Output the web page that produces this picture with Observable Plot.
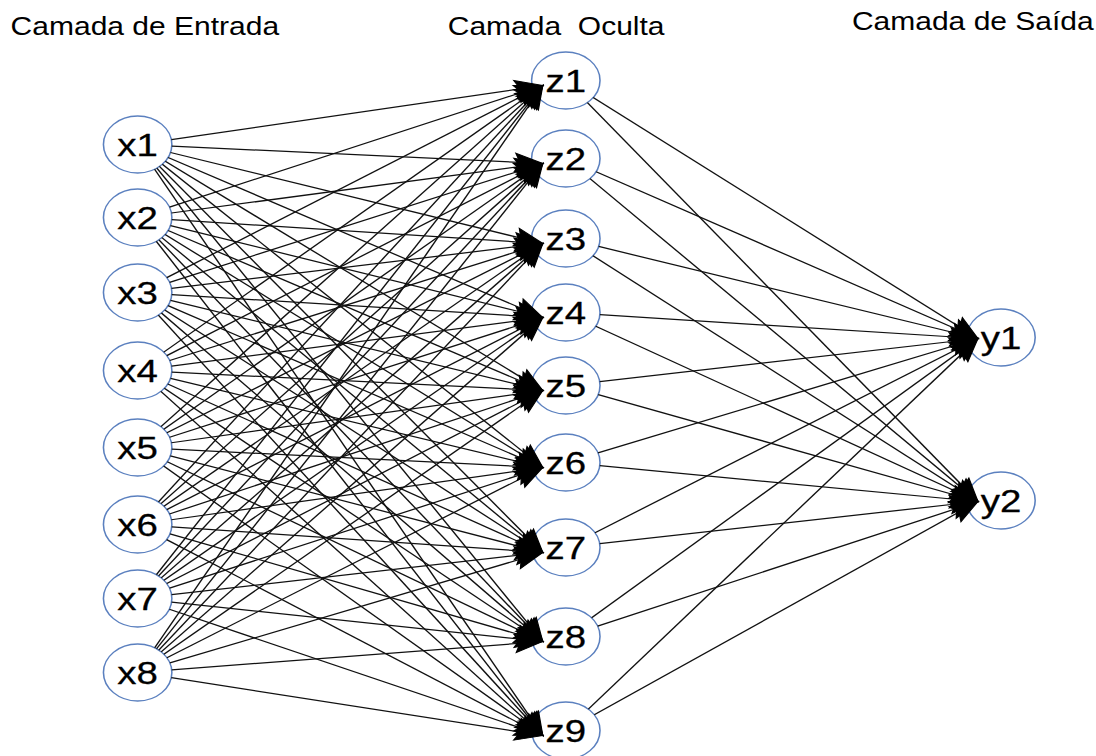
<!DOCTYPE html>
<html>
<head>
<meta charset="utf-8">
<script src="https://cdn.jsdelivr.net/npm/d3@7"></script>
<script src="https://cdn.jsdelivr.net/npm/@observablehq/plot@0.6"></script>
<style>
  html, body { margin: 0; padding: 0; background: #fff; }
  #chart svg text { white-space: pre; }
</style>
</head>
<body>
<div id="chart"></div>
<script>
// ---- data ----
const layerTitles = ["Camada de Entrada", "Camada  Oculta", "Camada de Saída"];
const titleX = [10, 447, 851];
const titleY = [34, 34, 29];

const layerX = [137, 565, 1000];

const inputLabels = ["x1", "x2", "x3", "x4", "x5", "x6", "x7", "x8"];
const inputY = [144, 217, 292, 370, 447, 524, 598, 672];

const hiddenLabels = ["z1", "z2", "z3", "z4", "z5", "z6", "z7", "z8", "z9"];
const hiddenY = [80, 158, 238, 312, 385, 462, 547, 636, 730];

const outputLabels = ["y1", "y2"];
const outputY = [337, 500];

// ---- geometry helpers ----
const W = 1096, H = 756;
const SX = 1.2;          // the picture is stretched horizontally
const R = 28.5;          // node radius (unstretched)
const tipDx = -23, tipDyHidden = 5, tipDyOutput = 1;

const nodes = [
  ...inputLabels.map((l, i) => ({label: l, x: layerX[0], y: inputY[i]})),
  ...hiddenLabels.map((l, i) => ({label: l, x: layerX[1], y: hiddenY[i]})),
  ...outputLabels.map((l, i) => ({label: l, x: layerX[2], y: outputY[i]}))
];

function edge(a, b, dyTip) {
  const tx = b.x + tipDx, ty = b.y + dyTip;
  const dxu = (tx - a.x) / SX, dy = ty - a.y;
  const L = Math.hypot(dxu, dy);
  const ux = dxu / L, uy = dy / L;
  return {
    x1: a.x + ux * R * SX, y1: a.y + uy * R,
    x2: tx, y2: ty,
    rotate: Math.atan2(ux, -uy) * 180 / Math.PI
  };
}

const edges = [];
inputLabels.forEach((_, i) => hiddenLabels.forEach((_, j) =>
  edges.push(edge({x: layerX[0], y: inputY[i]}, {x: layerX[1], y: hiddenY[j]}, tipDyHidden))));
hiddenLabels.forEach((_, j) => outputLabels.forEach((_, k) =>
  edges.push(edge({x: layerX[1], y: hiddenY[j]}, {x: layerX[2], y: outputY[k]}, tipDyOutput))));

const titles = layerTitles.map((t, i) => ({text: t, x: titleX[i], y: titleY[i]}));

const arrowHead = {
  draw(context) {
    context.moveTo(0, 0);
    context.lineTo(-9, 23);
    context.lineTo(0, 19);
    context.lineTo(9, 23);
    context.closePath();
  }
};

const font = "'Liberation Sans', Arial, sans-serif";

const plot = Plot.plot({
  width: Math.round(W / SX),
  height: H,
  margin: 0,
  style: {fontFamily: font, background: "#fff"},
  x: {domain: [0, W], range: [0, W / SX], axis: null},
  y: {domain: [0, H], range: [0, H], axis: null},
  marks: [
    Plot.dot(nodes, {x: "x", y: "y", r: R, fill: "white", stroke: "#5b80bf", strokeWidth: 1.3}),
    Plot.link(edges, {x1: "x1", y1: "y1", x2: "x2", y2: "y2", stroke: "#111", strokeWidth: 1.25}),
    Plot.dot(edges, {x: "x2", y: "y2", rotate: "rotate", symbol: arrowHead, r: 5, fill: "black", stroke: "black", strokeWidth: 1}),
    Plot.text(nodes, {x: "x", y: "y", text: "label", fontSize: 32, fill: "black", stroke: "black", strokeWidth: 0.3, textAnchor: "middle", lineAnchor: "middle", dy: 1}),
    Plot.text(titles, {x: "x", y: "y", text: "text", fontSize: 25, fill: "black", textAnchor: "start", lineAnchor: "bottom"})
  ]
});

plot.setAttribute("width", W);
plot.setAttribute("height", H);
plot.setAttribute("preserveAspectRatio", "none");
plot.style.width = W + "px";
plot.style.height = H + "px";
plot.style.maxWidth = "none";
plot.style.display = "block";
document.getElementById("chart").appendChild(plot);
</script>
</body>
</html>
